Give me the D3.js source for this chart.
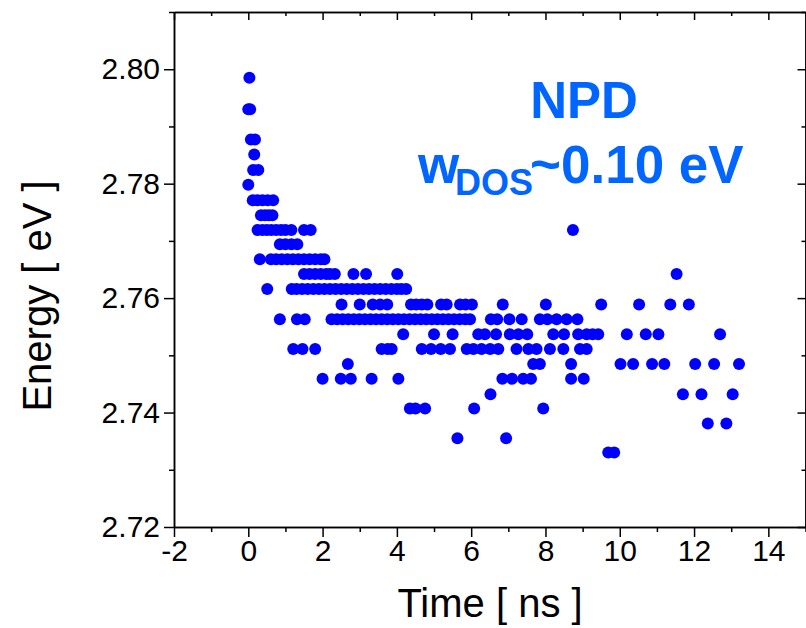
<!DOCTYPE html>
<html>
<head>
<meta charset="utf-8">
<script src="https://d3js.org/d3.v7.min.js"></script>
<style>
  body { margin: 0; background: #fff; }
  svg { font-family: Arial, "Liberation Sans", sans-serif; }
</style>
</head>
<body>
<svg width="806" height="628"></svg>
<script>
// energy levels (eV) of the detected peaks, and the times (ns) at which each level shows up
var energyLevels = [2.7985, 2.7930, 2.7877, 2.7851, 2.7824, 2.7798, 2.7771, 2.7745, 2.7719, 2.7694,
                    2.7668, 2.7642, 2.7616, 2.7589, 2.7563, 2.7537, 2.7511, 2.7485, 2.7459, 2.7432,
                    2.7407, 2.7381, 2.7355, 2.7330];
var timesAtLevel = [
  [0.03],
  [0.0, 0.05],
  [0.07, 0.18],
  [0.16],
  [0.13, 0.27],
  [0.0],
  [0.12, 0.25, 0.38, 0.52, 0.67],
  [0.34, 0.45, 0.55, 0.65],
  [0.25, 0.38, 0.5, 0.62, 0.75, 0.88, 1.0, 1.16, 1.5, 1.68, 8.74],
  [0.85, 1.0, 1.16, 1.32],
  [0.31, 0.61, 0.75, 0.9, 1.05, 1.2, 1.35, 1.5, 1.65, 1.8, 1.95, 2.05],
  [1.5, 1.65, 1.8, 1.95, 2.1, 2.2, 2.33, 2.83, 3.17, 4.01, 11.53],
  [0.51, 1.17, 1.3, 1.45, 1.6, 1.75, 1.9, 2.05, 2.2, 2.35, 2.5, 2.65, 2.8, 2.95, 3.1, 3.25,
   3.4, 3.55, 3.7, 3.85, 4.0, 4.12, 4.25],
  [2.51, 3.0, 3.35, 3.55, 3.74, 4.38, 4.52, 4.67, 4.82, 5.19, 5.34, 5.7, 5.85, 6.02, 6.85,
   8.01, 9.5, 10.52, 11.36, 11.86],
  [0.85, 1.31, 1.52, 2.24, 2.39, 2.54, 2.69, 2.84, 2.99, 3.14, 3.29, 3.44, 3.59, 3.74, 3.89,
   4.04, 4.19, 4.34, 4.49, 4.64, 4.79, 4.94, 5.09, 5.24, 5.39, 5.54, 5.69, 5.84, 5.97,
   6.53, 6.7, 7.03, 7.36, 7.85, 8.05, 8.3, 8.57, 8.86],
  [4.17, 5.0, 5.5, 6.19, 6.37, 6.67, 7.04, 7.27, 7.51, 8.21, 8.5, 8.88, 9.11, 9.27, 9.42,
   10.19, 10.7, 11.04, 12.7],
  [1.21, 1.46, 1.8, 3.59, 3.75, 3.86, 4.67, 4.92, 5.18, 5.43, 5.88, 6.06, 6.28, 6.51, 6.73,
   7.22, 7.54, 7.76, 8.12, 8.48, 8.93, 9.11],
  [2.68, 7.67, 7.85, 8.69, 10.02, 10.36, 10.87, 11.2, 12.03, 12.54, 13.21],
  [2.0, 2.49, 2.76, 3.32, 4.04, 6.84, 7.1, 7.4, 7.61, 8.69, 9.03],
  [6.52, 11.7, 12.2, 13.04],
  [4.35, 4.5, 4.76, 6.08, 7.94],
  [12.37, 12.87],
  [5.63, 6.94],
  [9.69, 9.85]
];

var xTicks = [-2, 0, 2, 4, 6, 8, 10, 12, 14];
var xMinor = [-1, 1, 3, 5, 7, 9, 11, 13, 15];
var yTicks = [2.72, 2.74, 2.76, 2.78, 2.80];
var yMinor = [2.73, 2.75, 2.77, 2.79, 2.81];

var points = [];
energyLevels.forEach(function (e, i) {
  timesAtLevel[i].forEach(function (t) { points.push({ t: t, e: e }); });
});

var svg = d3.select("svg");
var plotLeft = 174, plotRight = 805.5, plotTop = 12, plotBottom = 527;

var x = d3.scaleLinear().domain([-2, 15]).range([plotLeft, plotRight]);
var y = d3.scaleLinear().domain([2.72, 2.81]).range([plotBottom, plotTop]);

function styleAxis(g) {
  g.selectAll("path, line").attr("stroke", "#000").attr("stroke-width", 1.5);
  g.selectAll("text").attr("fill", "#000").attr("font-size", 30)
    .attr("font-family", "Arial, 'Liberation Sans', sans-serif");
}

// bottom
svg.append("g").attr("transform", "translate(0," + plotBottom + ")")
  .call(d3.axisBottom(x).tickValues(xTicks).tickSize(10).tickSizeOuter(0).tickPadding(3)
    .tickFormat(function (d) { return String(d); }))
  .call(styleAxis);
svg.append("g").attr("transform", "translate(0," + plotBottom + ")")
  .call(d3.axisBottom(x).tickValues(xMinor).tickSize(5).tickSizeOuter(0).tickFormat(""))
  .call(styleAxis);
// top
svg.append("g").attr("transform", "translate(0," + plotTop + ")")
  .call(d3.axisTop(x).tickValues(xTicks).tickSize(-8).tickSizeOuter(0).tickFormat(""))
  .call(styleAxis);
svg.append("g").attr("transform", "translate(0," + plotTop + ")")
  .call(d3.axisTop(x).tickValues(xMinor).tickSize(-4).tickSizeOuter(0).tickFormat(""))
  .call(styleAxis);
// left
svg.append("g").attr("transform", "translate(" + plotLeft + ",0)")
  .call(d3.axisLeft(y).tickValues(yTicks).tickSize(10).tickSizeOuter(0).tickPadding(4)
    .tickFormat(d3.format(".2f")))
  .call(styleAxis);
svg.append("g").attr("transform", "translate(" + plotLeft + ",0)")
  .call(d3.axisLeft(y).tickValues(yMinor).tickSize(5).tickSizeOuter(0).tickFormat(""))
  .call(styleAxis);
// right
svg.append("g").attr("transform", "translate(" + plotRight + ",0)")
  .call(d3.axisRight(y).tickValues(yTicks).tickSize(-8).tickSizeOuter(0).tickFormat(""))
  .call(styleAxis);
svg.append("g").attr("transform", "translate(" + plotRight + ",0)")
  .call(d3.axisRight(y).tickValues(yMinor).tickSize(-4).tickSizeOuter(0).tickFormat(""))
  .call(styleAxis);

// points
svg.append("g").selectAll("circle")
  .data(points)
  .enter().append("circle")
  .attr("cx", function (d) { return x(d.t); })
  .attr("cy", function (d) { return y(d.e); })
  .attr("r", 6)
  .attr("fill", "#0000ff");

// axis titles
svg.append("text").attr("x", 490).attr("y", 617).attr("text-anchor", "middle")
  .attr("font-size", 40).attr("fill", "#000").text("Time [ ns ]");
svg.append("text").attr("transform", "translate(51,296) rotate(-90)").attr("text-anchor", "middle")
  .attr("font-size", 40).attr("fill", "#000").text("Energy [ eV ]");

// annotation
var blue = "#0066ff";
svg.append("text").attr("x", 584).attr("y", 118).attr("text-anchor", "middle")
  .attr("font-size", 51).attr("font-weight", "bold").attr("fill", blue).text("NPD");
svg.append("text").attr("x", 418).attr("y", 183)
  .attr("font-size", 53).attr("font-weight", "bold").attr("fill", blue).text("w");
svg.append("text").attr("x", 455).attr("y", 195)
  .attr("font-size", 36).attr("font-weight", "bold").attr("fill", blue).text("DOS");
svg.append("text").attr("x", 530).attr("y", 183)
  .attr("font-size", 53).attr("font-weight", "bold").attr("fill", blue).text("~0.10 eV");
</script>
</body>
</html>
